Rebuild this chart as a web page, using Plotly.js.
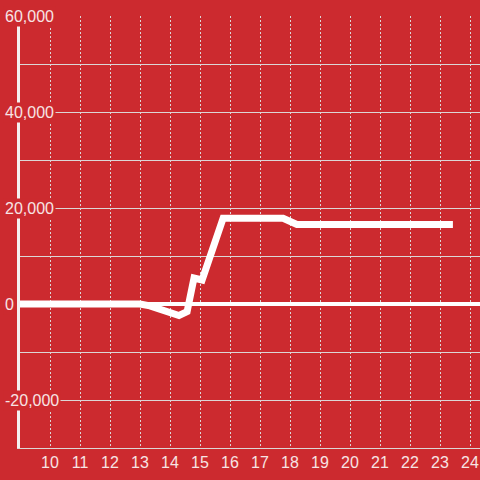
<!DOCTYPE html>
<html>
<head>
<meta charset="utf-8">
<script src="https://cdn.plot.ly/plotly-3.0.1.min.js"></script>
<style>
  html, body { margin: 0; padding: 0; background: #cc2a2f; }
  #chart { width: 480px; height: 480px; }
</style>
</head>
<body>
<div id="chart"></div>
<script>
// Data
const xValues = [9, 13, 13.33, 13.67, 14, 14.3, 14.57, 14.8, 15.07, 15.77, 17.77, 18.23, 23.43];
const yValues = [0, 0, -400, -1000, -1600, -2400, -1600, 5400, 5000, 17850, 17850, 16550, 16550];

const xTickVals = [10, 11, 12, 13, 14, 15, 16, 17, 18, 19, 20, 21, 22, 23, 24];
const xTickText = ["10", "11", "12", "13", "14", "15", "16", "17", "18", "19", "20", "21", "22", "23", "24"];
const yTickVals = [60000, 40000, 20000, 0, -20000];
const yTickText = ["60,000", "40,000", "20,000", "0", "-20,000"];

const BG = "#cc2a2f";
const TEXT = "#f7e4e4";
const GRID = "#dcd6d6";

const trace = {
  x: xValues,
  y: yValues,
  type: "scatter",
  mode: "lines",
  line: { color: "#ffffff", width: 7 },
  hoverinfo: "none"
};

const annotations = yTickVals.map((v, i) => ({
  xref: "paper", yref: "y",
  x: 0, y: v,
  xshift: -17,
  xanchor: "left", yanchor: "middle",
  text: yTickText[i],
  showarrow: false,
  bgcolor: BG,
  borderpad: 1,
  font: { family: "Liberation Sans, Arial, sans-serif", size: 16, color: TEXT }
}));

const layout = {
  width: 480, height: 480,
  paper_bgcolor: BG,
  plot_bgcolor: BG,
  margin: { l: 20, r: 0, t: 16, b: 32, pad: 0 },
  showlegend: false,
  font: { family: "Liberation Sans, Arial, sans-serif", size: 16, color: TEXT },
  xaxis: {
    range: [9, 24.333],
    tickmode: "array",
    tickvals: xTickVals,
    ticktext: xTickText,
    ticks: "",
    showgrid: true,
    gridcolor: GRID,
    gridwidth: 1,
    griddash: "2px,2px",
    showline: true,
    linecolor: GRID,
    linewidth: 1,
    zeroline: false,
    tickfont: { size: 16, color: TEXT }
  },
  yaxis: {
    range: [-30000, 60000],
    dtick: 10000,
    tick0: 0,
    showticklabels: false,
    ticks: "",
    showgrid: true,
    gridcolor: GRID,
    gridwidth: 1,
    zeroline: true,
    zerolinecolor: "#ffffff",
    zerolinewidth: 4,
    showline: true,
    linecolor: "#f4f0f0",
    linewidth: 3
  },
  annotations: annotations
};

Plotly.newPlot("chart", [trace], layout, { displayModeBar: false, staticPlot: true });
</script>
</body>
</html>
